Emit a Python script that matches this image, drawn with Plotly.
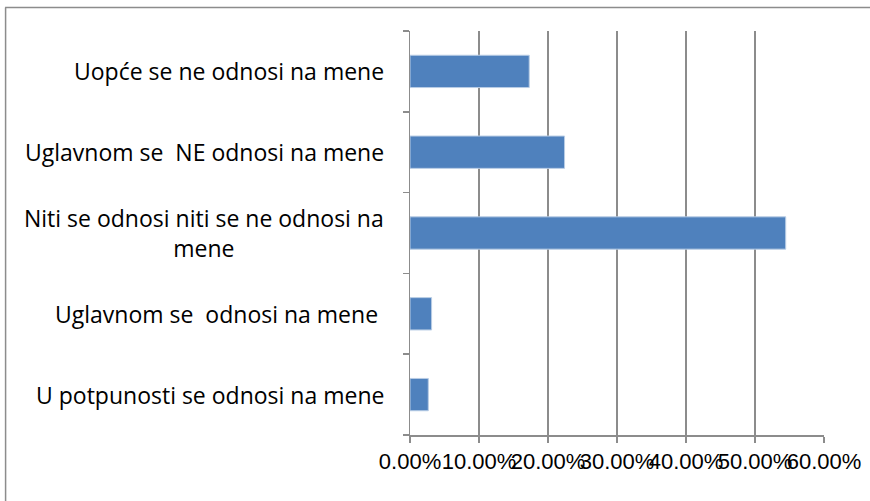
import plotly.graph_objects as go

categories = [
    "U potpunosti se odnosi na mene",
    "Uglavnom se \u00a0odnosi na mene ",
    "Niti se odnosi niti se ne odnosi na<br>mene",
    "Uglavnom se \u00a0NE odnosi na mene",
    "Uopće se ne odnosi na mene",
]
values = [0.0265, 0.0313, 0.5445, 0.224, 0.1728]
x_ticks = [0, 0.1, 0.2, 0.3, 0.4, 0.5, 0.6]
x_tick_labels = ["0.00%", "10.00%", "20.00%", "30.00%", "40.00%", "50.00%", "60.00%"]

W, H = 870, 501
L, R, T, B = 409.7, 46, 31, 66
pw = W - L - R
ph = H - T - B

def px_x(p):
    return (p - L) / pw

def px_y(p):
    return (H - B - p) / ph

fig = go.Figure(
    go.Bar(
        x=values,
        y=categories,
        orientation="h",
        marker=dict(color="#4F81BD", line=dict(color="#B9CDE5", width=1)),
        width=0.4,
        hoverinfo="skip",
    )
)

grid_c = "#8C8C8C"
label_font = dict(family="Open Sans, sans-serif", size=23, color="black")

annotations = []
for c in categories:
    annotations.append(
        dict(
            x=px_x(386),
            xref="paper",
            y=c,
            yref="y",
            text=c,
            showarrow=False,
            xanchor="right",
            yanchor="middle",
            align="center",
            font=label_font,
        )
    )

border = dict(color="#8C8C8C", width=1.5)
fig.update_layout(
    width=W,
    height=H,
    margin=dict(l=L, r=R, t=T, b=B, pad=0, autoexpand=False),
    plot_bgcolor="white",
    paper_bgcolor="white",
    showlegend=False,
    dragmode=False,
    xaxis=dict(
        range=[0, 0.6],
        tickvals=x_ticks,
        ticktext=x_tick_labels,
        tickangle=0,
        automargin=False,
        showgrid=True,
        gridcolor=grid_c,
        gridwidth=1.5,
        showline=True,
        linecolor=grid_c,
        linewidth=1.5,
        ticks="outside",
        ticklen=6,
        tickcolor=grid_c,
        tickwidth=1.5,
        zeroline=False,
        ticklabelstandoff=0,
        tickfont=dict(family="Liberation Sans, sans-serif", size=22, color="black"),
    ),
    yaxis=dict(
        range=[-0.5, 4.5],
        automargin=False,
        showgrid=False,
        showline=True,
        linecolor=grid_c,
        linewidth=1.5,
        ticks="outside",
        tickson="boundaries",
        ticklen=6,
        tickcolor=grid_c,
        tickwidth=1.5,
        zeroline=False,
        showticklabels=False,
    ),
    annotations=annotations,
    shapes=[
        dict(type="line", xref="paper", yref="paper",
             x0=px_x(4.5), x1=px_x(1000), y0=px_y(7.5), y1=px_y(7.5), line=border),
        dict(type="line", xref="paper", yref="paper",
             x0=px_x(5), x1=px_x(5), y0=px_y(7.5), y1=px_y(700), line=border),
    ],
)

fig.write_html(
    "out.html",
    config={"displayModeBar": False, "staticPlot": True},
    post_script=(
        "document.documentElement.style.overflow='hidden';"
        "document.body.style.margin='0';"
        "document.body.style.overflow='hidden';"
    ),
)
